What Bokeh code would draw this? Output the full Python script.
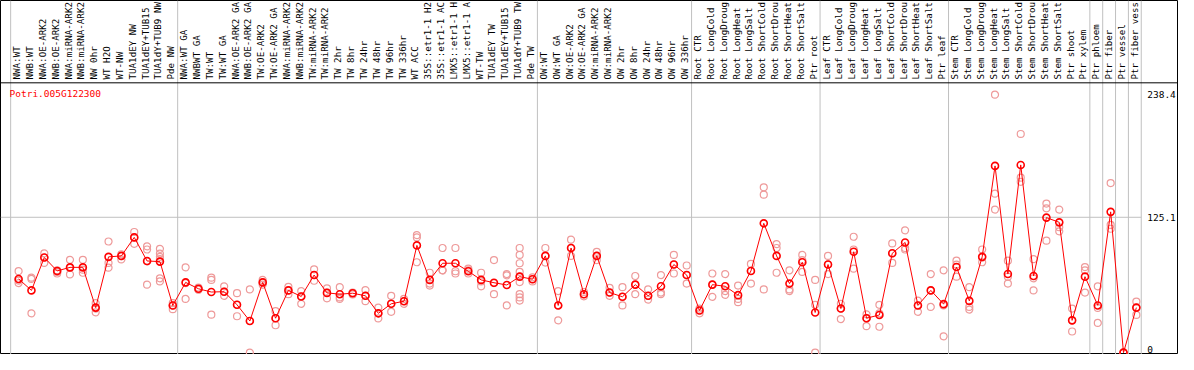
import math
from bokeh.plotting import figure
from bokeh.models import Range1d, LinearAxis, FixedTicker, Span, Label
from bokeh.embed import file_html
from bokeh.resources import INLINE
from bokeh.core.properties import value

gene = "Potri.005G122300"

labels = [
    "NWA:WT", "NWB:WT", "NWA:OE-ARK2", "NWB:OE-ARK2", "NWA:miRNA-ARK2", "NWB:miRNA-ARK2",
    "NW 0hr", "WT H2O", "WT-NW", "TUA1dEY NW", "TUA1dEY+TUB15 NW", "TUA1dY+TUB9 NW", "Pde NW",
    "NWA:WT GA", "NWBWT GA", "TW:WT", "TW:WT GA", "NWA:OE-ARK2 GA", "NWB:OE-ARK2 GA",
    "TW:OE-ARK2", "TW:OE-ARK2 GA", "NWA:miRNA-ARK2", "NWB:miRNA-ARK2", "TW:miRNA-ARK2",
    "TW:miRNA-ARK2", "TW 2hr", "TW 8hr", "TW 24hr", "TW 48hr", "TW 96hr", "TW 336hr",
    "WT ACC", "35S::etr1-1 H2O", "35S::etr1-1 ACC", "LMX5::etr1-1 H2O", "LMX5::etr1-1 ACC",
    "WT-TW", "TUA1dEY TW", "TUA1dEY+TUB15 TW", "TUA1dY+TUB9 TW", "Pde TW",
    "OW:WT", "OW:WT GA", "OW:OE-ARK2", "OW:OE-ARK2 GA", "OW:miRNA-ARK2", "OW:miRNA-ARK2",
    "OW 2hr", "OW 8hr", "OW 24hr", "OW 48hr", "OW 96hr", "OW 336hr",
    "Root CTR", "Root LongCold", "Root LongDrought", "Root LongHeat", "Root LongSalt",
    "Root ShortCold", "Root ShortDrought", "Root ShortHeat", "Root ShortSalt", "Ptr root",
    "Leaf CTR", "Leaf LongCold", "Leaf LongDrought", "Leaf LongHeat", "Leaf LongSalt",
    "Leaf ShortCold", "Leaf ShortDrought", "Leaf ShortHeat", "Leaf ShortSalt", "Ptr leaf",
    "Stem CTR", "Stem LongCold", "Stem LongDrought", "Stem LongHeat", "Stem LongSalt",
    "Stem ShortCold", "Stem ShortDrought", "Stem ShortHeat", "Stem ShortSalt",
    "Ptr shoot", "Ptr xylem", "Ptr phloem", "Ptr fiber", "Ptr vessel", "Ptr fiber vessel",
]

means = [
    68.1, 57.5, 87.9, 75.5, 78.8, 78.8, 41.6, 88.5, 89.4, 106.5, 84.7, 84.1, 43.6,
    64.9, 59.0, 56.0, 56.3, 44.2, 29.2, 64.9, 31.8, 57.5, 51.9, 71.7, 55.2, 54.0,
    54.9, 52.5, 36.3, 45.1, 47.5, 99.1, 67.2, 82.6, 82.6, 75.2, 67.2, 64.6, 62.5,
    70.2, 67.8,
    89.4, 43.6, 96.7, 54.0, 89.4, 55.5, 51.6, 62.8, 52.5, 61.3, 81.4, 71.7,
    38.9, 62.8, 61.3, 53.1, 75.5, 119.5, 89.4, 63.8, 83.5, 37.1,
    81.4, 40.7, 93.2, 31.8, 34.8, 91.8, 101.8, 43.6, 57.5, 44.8,
    79.1, 47.8, 88.5, 172.6, 72.6, 173.5, 70.8, 124.8, 120.4, 29.8, 70.2,
    43.6, 130.1, 0.0, 41.6,
]

replicates = [
    [75.3, 66.6, 64.3], [69.3, 68.1, 36.3], [91.7, 87.9, 82.9], [76.1, 74.6, 73.1],
    [85.8, 78.3, 72.3], [85.8, 76.7, 73.8], [45.7, 40.7, 37.2], [102.7, 82.9, 78.5],
    [90.9, 89.1, 86.1], [111.5, 106.5, 100.6], [98.2, 95.3, 84.4, 62.8],
    [95.9, 91.5, 88.5, 86.4, 68.7, 65.8], [45.7, 43.6, 40.1],
    [78.8, 64.3, 49.6], [60.2, 58.4, 58.1], [69.3, 67.2, 35.1], [61.3, 56.3, 52.5],
    [54.9, 44.2, 33.6], [58.4, 29.2, 0.0], [67.2, 64.9, 62.8], [38.3, 31.8, 25.3],
    [60.8, 57.5, 54.0], [56.9, 51.9, 45.1], [77.0, 71.7, 66.4], [59.3, 55.5, 50.2],
    [60.5, 51.0, 49.6], [55.5, 54.9, 53.7], [57.8, 52.5, 47.5], [41.6, 36.3, 31.6],
    [52.5, 45.1, 37.7], [49.6, 47.5, 45.1], [108.6, 106.5, 83.5], [73.8, 63.8, 62.0],
    [96.7, 76.1, 76.1], [96.7, 75.2, 73.1], [77.6, 76.1, 73.1], [73.8, 65.8, 61.3],
    [85.5, 64.3, 54.0], [72.6, 71.4, 43.6],
    [96.7, 90.3, 82.6, 74.6, 70.2, 65.2, 54.0, 51.0, 48.1], [69.6, 67.8, 65.8],
    [96.7, 89.4, 83.2], [56.9, 43.6, 29.8], [104.4, 96.7, 89.4], [56.0, 54.0, 52.0],
    [93.2, 89.4, 85.5], [59.9, 55.5, 52.5], [60.5, 51.6, 43.6], [70.8, 62.8, 54.0],
    [58.4, 52.5, 49.0], [71.7, 55.5, 54.0], [90.3, 81.4, 73.1], [80.5, 71.7, 63.8],
    [40.7, 38.9, 36.3], [73.1, 62.8, 51.6], [72.6, 56.9, 53.4], [62.0, 49.6, 46.6],
    [82.0, 75.5, 63.8], [152.8, 146.0, 58.4], [100.3, 96.7, 73.8], [76.1, 58.4, 56.9],
    [90.3, 85.5, 74.6], [67.2, 44.2, 0.0],
    [89.4, 81.4, 72.6], [45.1, 40.7, 31.0], [107.1, 95.3, 77.6], [35.4, 31.8, 24.4],
    [44.2, 36.3, 23.9], [100.9, 91.8, 82.9], [113.0, 96.7, 95.3], [48.1, 43.6, 37.7],
    [72.6, 57.5, 42.2], [76.1, 43.6, 15.0],
    [85.0, 81.4, 70.2], [60.5, 42.2, 39.8], [95.3, 87.9, 83.5], [238.4, 146.9, 132.2],
    [85.0, 70.2, 63.8], [202.1, 161.7, 157.9], [86.4, 68.7, 57.5], [137.8, 133.4, 103.5],
    [132.2, 115.9, 112.1], [40.7, 29.8, 19.5], [79.1, 76.1, 55.5],
    [61.3, 41.3, 27.4], [156.7, 118.0, 114.5], [0.0, 0.0, 0.0], [47.2, 41.6, 34.8],
]

group_sizes = [13, 28, 12, 10, 10, 11, 1, 1, 1, 1]
upper_ticks = [125.1, 238.4]      # labels hang below their value
base_ticks = [0]                  # label sits above its value
grid_ticks = [125.1]
LABEL_CHARS = 14                  # the header column shows at most 14 characters

# ---------------------------------------------------------------- layout
W, H = 1178, 354
MONO = "DejaVu Sans Mono"
SEP_OFFSET = 0.62          # separator sits a little left of the column boundary
PLOT_TOP = 249.4           # value at which the label header begins
HDR_Y = H - 79             # header text anchor (screen px from bottom)

xs = list(range(1, len(labels) + 1))
shown_labels = [s[:LABEL_CHARS].rstrip() for s in labels]

p = figure(width=W, height=H, output_backend="svg", toolbar_location=None,
           x_range=Range1d(-0.41, 91.28), y_range=Range1d(-1.76, 325.5),
           x_axis_type=None, y_axis_type=None,
           min_border_left=0, min_border_right=0, min_border_top=0, min_border_bottom=0)
p.extra_y_ranges = {"hdr": Range1d(0, H)}
p.outline_line_color = "black"
p.outline_line_width = 1
p.background_fill_color = "white"
p.border_fill_color = "white"

# group separators
starts = [1]
for g in group_sizes:
    starts.append(starts[-1] + g)
sep_x = [s - SEP_OFFSET for s in starts]
for sx in sep_x:
    p.add_layout(Span(location=sx, dimension="height", line_color="#c0c0c0",
                      line_width=1, level="underlay"))

# header / plot divider
p.add_layout(Span(location=PLOT_TOP, dimension="width", line_color="black", line_width=1))

# horizontal grid line (only across the sample columns)
p.segment(x0=[p.x_range.start] * len(grid_ticks), x1=[sep_x[-1]] * len(grid_ticks),
          y0=grid_ticks, y1=grid_ticks, line_color="#c0c0c0", line_width=1)

# header labels
p.text(x=xs, y=HDR_Y, text=shown_labels, angle=math.pi / 2, text_align="left",
       text_baseline="middle", text_font=value(MONO), text_font_size="9.2px",
       text_color="black", x_offset=-2, y_range_name="hdr")

# replicates
rx, ry = [], []
for i, vals in zip(xs, replicates):
    for v in vals:
        rx.append(i)
        ry.append(v)
p.scatter(rx, ry, size=7, marker="circle", fill_color=None,
          line_color="#ee9a9a", line_width=1.2)

# mean line & points
p.line(xs, means, line_color="#ff0000", line_width=1)
p.scatter(xs, means, size=7, marker="circle", fill_color=None,
          line_color="#ff0000", line_width=1.6)

# gene label
p.add_layout(Label(x=9, y=H - 93, x_units="screen", y_units="screen", text=gene,
                   text_color="#ff0000", text_font=MONO, text_font_size="9.5px",
                   text_baseline="middle", text_align="left"))


def value_axis(ticks, baseline):
    return LinearAxis(ticker=FixedTicker(ticks=ticks), fixed_location=sep_x[-1],
                      axis_line_color=None, major_tick_line_color=None,
                      minor_tick_line_color=None, major_tick_in=0, major_tick_out=0,
                      minor_tick_in=0, minor_tick_out=0, major_label_standoff=6,
                      major_label_text_font=MONO, major_label_text_font_size="9.5px",
                      major_label_text_color="black",
                      major_label_text_baseline=baseline,
                      major_label_overrides={t: str(t) for t in ticks})


# right value axis, placed after the last column separator
p.add_layout(value_axis(upper_ticks, "top"), "right")
p.add_layout(value_axis(base_ticks, "bottom"), "right")

open("out.html", "w").write(file_html(p, INLINE, title=gene))
